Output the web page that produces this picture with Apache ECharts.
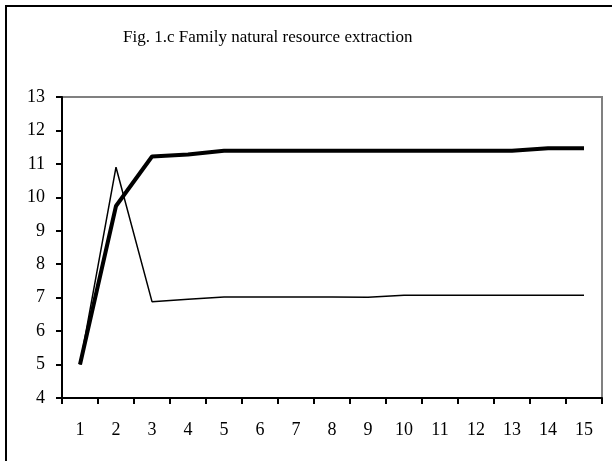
<!DOCTYPE html>
<html>
<head>
<meta charset="utf-8">
<script src="https://cdn.jsdelivr.net/npm/echarts@6/dist/echarts.min.js"></script>
<style>html,body{margin:0;padding:0;background:#fff;}#c{width:612px;height:461px;}</style>
</head>
<body>
<div id="c"></div>
<script>
var categories = ['1','2','3','4','5','6','7','8','9','10','11','12','13','14','15'];
var thickSeries = [5, 9.74, 11.22, 11.28, 11.39, 11.39, 11.39, 11.39, 11.39, 11.39, 11.39, 11.39, 11.39, 11.47, 11.47];
var thinSeries = [5, 10.9, 6.88, 6.95, 7.02, 7.02, 7.02, 7.02, 7.01, 7.07, 7.07, 7.07, 7.07, 7.07, 7.07];
var titleText = 'Fig. 1.c Family natural resource extraction';
var FONT = '"Liberation Serif", "Times New Roman", serif';

var chart = echarts.init(document.getElementById('c'), null, {renderer: 'canvas'});
chart.setOption({
  animation: false,
  backgroundColor: '#fff',
  title: {
    text: titleText,
    left: 118, top: 24,
    textStyle: {fontFamily: FONT, fontSize: 17, fontWeight: 'normal', color: '#000'}
  },
  graphic: [{
    type: 'rect', shape: {x: 6, y: 6, width: 700, height: 600},
    style: {fill: 'none', stroke: '#000', lineWidth: 2}, z: 100
  }],
  grid: {left: 62, top: 97, right: 10, bottom: 63, show: true, borderColor: '#808080', borderWidth: 2, backgroundColor: 'transparent'},
  xAxis: {
    type: 'category', data: categories, boundaryGap: true,
    axisLine: {lineStyle: {color: '#000', width: 2}},
    axisTick: {show: true, length: 6, lineStyle: {color: '#000', width: 2}},
    axisLabel: {fontFamily: FONT, fontSize: 18, color: '#000', margin: 23}
  },
  yAxis: {
    type: 'value', min: 4, max: 13, interval: 1,
    axisLine: {show: true, lineStyle: {color: '#000', width: 2}},
    axisTick: {show: true, length: 6, lineStyle: {color: '#000', width: 2}},
    splitLine: {show: false},
    axisLabel: {fontFamily: FONT, fontSize: 18, color: '#000', margin: 17}
  },
  series: [
    {type: 'line', data: thinSeries, showSymbol: false, symbol: 'none', lineStyle: {color: '#000', width: 1.5}, z: 3},
    {type: 'line', data: thickSeries, showSymbol: false, symbol: 'none', lineStyle: {color: '#000', width: 4}, z: 4}
  ]
});
</script>
</body>
</html>
